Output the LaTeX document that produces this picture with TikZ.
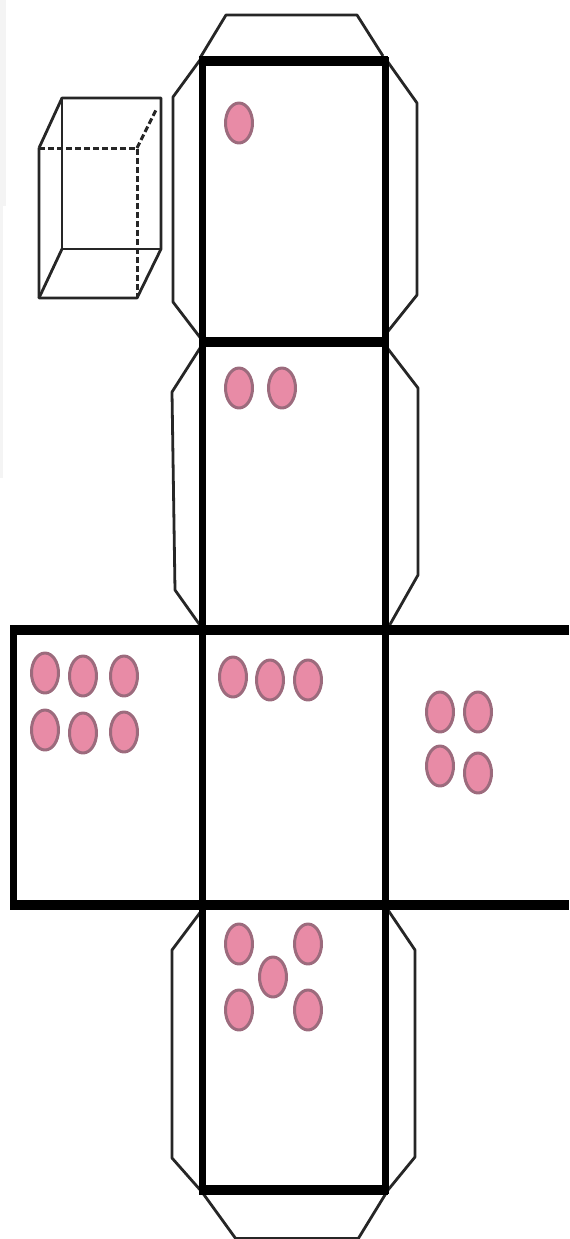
\documentclass[tikz,border=0pt]{standalone}
\usepackage{xcolor}
\usepackage{tikz}
\definecolor{dotpink}{HTML}{E88BA6}
\definecolor{dotrim}{HTML}{9C6B7D}
\definecolor{scangray}{HTML}{F4F4F4}

\begin{document}
\begin{tikzpicture}[x=0.5pt,y=-0.5pt,line join=round,
  foldh/.style={draw=black,line width=4.6pt},
  foldv/.style={draw=black,line width=3.5pt},
  flap/.style={draw=black!85,line width=1.4pt},
  edge/.style={draw=black!85,line width=1.4pt},
  hid/.style={draw=black!85,line width=1.5pt,dash pattern=on 3pt off 1.5pt},
  dot/.style={draw=dotrim,fill=dotpink,line width=1.5pt}]
\useasboundingbox (0,0) rectangle (569,1239);
\fill[scangray] (0,0) rectangle (6,206);
\fill[scangray] (0,206) rectangle (3,478);
% flaps
\draw[flap] (200,58) -- (226,15) -- (357,15) -- (383,56);
\draw[flap] (200,60) -- (173,97) -- (173,302) -- (202,340);
\draw[flap] (385,58) -- (417,103) -- (417,295) -- (385,335);
\draw[flap] (202,345) -- (172,392) -- (175,590) -- (202,628);
\draw[flap] (385,345) -- (418,388) -- (418,575) -- (388,628);
\draw[flap] (202,910) -- (172,950) -- (172,1158) -- (202,1192) -- (236,1239);
\draw[flap] (388,910) -- (415,950) -- (415,1157) -- (388,1190) -- (358,1239);
\draw[flap] (236,1238) -- (358,1238);
% net
\draw[foldv] (202,57) -- (202,1194);
\draw[foldv] (385,57) -- (385,1194);
\draw[foldv] (13,626) -- (13,909);
\draw[foldh] (199,61) -- (388,61);
\draw[foldh] (199,342) -- (388,342);
\draw[foldh] (10,630) -- (569,630);
\draw[foldh] (10,905) -- (569,905);
\draw[foldh] (199,1190) -- (388,1190);
% small cube
\draw[edge] (39,148) -- (39,298) -- (137,298) -- (161,249) -- (161,98) -- (62,98) -- (39,148);
\draw[edge] (62,98) -- (62,249) -- (161,249);
\draw[edge] (62,249) -- (39,298);
\draw[hid] (39,148) -- (137,148) -- (137,298);
\draw[hid] (137,148) -- (157,108);
% dots
\foreach \x/\y in {239/123,239/388,282/388,
  45/673,83/676,124/676,45/730,83/733,124/732,
  233/677,270/680,308/680,
  440/712,478/712,440/766,478/773,
  239/944,308/944,273/977,239/1010,308/1010}
  \draw[dot] (\x,\y) ellipse (13.5 and 20);
\end{tikzpicture}
\end{document}
